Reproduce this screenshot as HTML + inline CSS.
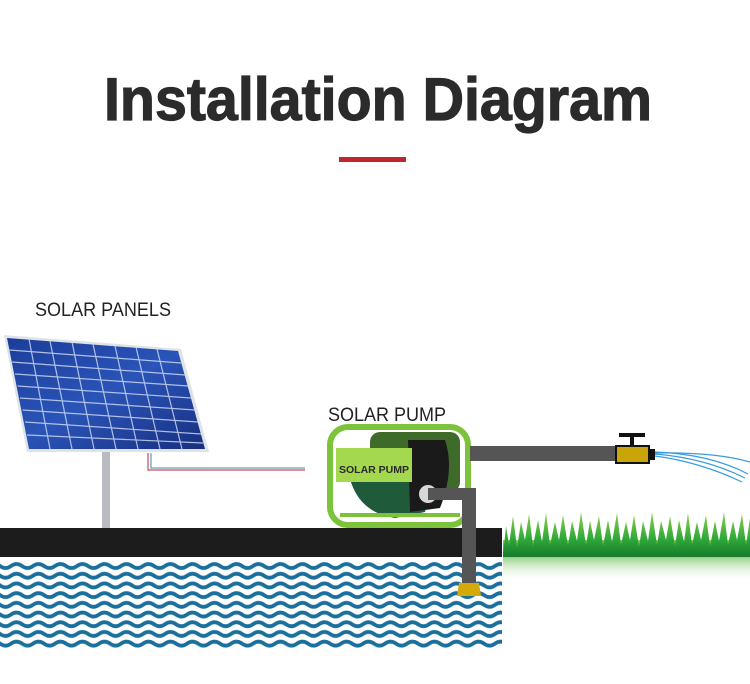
<!DOCTYPE html>
<html><head><meta charset="utf-8"><style>
html,body{margin:0;padding:0;background:#fff;}
svg{display:block}
</style></head><body>
<svg width="750" height="684" viewBox="0 0 750 684" xmlns="http://www.w3.org/2000/svg">
<defs>
<pattern id="wave" x="0" y="561" width="22" height="9.7" patternUnits="userSpaceOnUse">
<path d="M-11,5 Q-5.5,1 0,5 T11,5 T22,5 T33,5" fill="none" stroke="#1b6f9c" stroke-width="3.8"/>
</pattern>
<linearGradient id="panel" x1="0" y1="0" x2="1" y2="1">
<stop offset="0" stop-color="#1c3d9a"/><stop offset="0.5" stop-color="#2a54b8"/><stop offset="1" stop-color="#172f80"/>
</linearGradient>
<linearGradient id="grass" x1="0" y1="0" x2="0" y2="1">
<stop offset="0" stop-color="#8fd04a"/><stop offset="0.6" stop-color="#2fa83a"/><stop offset="1" stop-color="#167a2a"/>
</linearGradient>
<linearGradient id="refl" x1="0" y1="0" x2="0" y2="1">
<stop offset="0" stop-color="#7bc66a" stop-opacity="0.8"/><stop offset="1" stop-color="#ffffff" stop-opacity="0"/>
</linearGradient>
</defs>

<text x="378" y="120" text-anchor="middle" font-family="Liberation Sans, Arial, sans-serif" font-weight="bold" font-size="60" fill="#2b2b2b" stroke="#2b2b2b" stroke-width="1.2" textLength="548" lengthAdjust="spacingAndGlyphs">Installation Diagram</text>
<rect x="339" y="157" width="67" height="5" fill="#c0272d"/>

<text x="35" y="316" font-family="Liberation Sans, Arial, sans-serif" font-size="19" fill="#222" textLength="136" lengthAdjust="spacingAndGlyphs">SOLAR PANELS</text>
<text x="328" y="421" font-family="Liberation Sans, Arial, sans-serif" font-size="19" fill="#222" textLength="118" lengthAdjust="spacingAndGlyphs">SOLAR PUMP</text>

<!-- pole -->
<rect x="102" y="452" width="8" height="76" fill="#b8bcc0"/>
<!-- panel -->
<polygon points="4,335 181,349 209,452 27,452" fill="#dfe3e8"/>
<polygon points="7,338 178,351 205,449 29,449" fill="url(#panel)"/>
<g stroke="#c9d6f0" stroke-width="1.2" opacity="0.85">
<line x1="9.5" y1="350" x2="181" y2="363"/>
<line x1="12" y1="362" x2="185" y2="375"/>
<line x1="15" y1="374" x2="188" y2="386"/>
<line x1="17.5" y1="386" x2="191" y2="398"/>
<line x1="20" y1="398" x2="195" y2="410"/>
<line x1="22.5" y1="410" x2="198" y2="422"/>
<line x1="25" y1="422" x2="201" y2="434"/>
<line x1="27" y1="435" x2="203" y2="443"/>
<line x1="29" y1="339" x2="50" y2="449"/>
<line x1="50" y1="341" x2="72" y2="449"/>
<line x1="72" y1="342" x2="94" y2="449"/>
<line x1="93" y1="344" x2="116" y2="449"/>
<line x1="115" y1="346" x2="138" y2="449"/>
<line x1="136" y1="347" x2="160" y2="449"/>
<line x1="157" y1="349" x2="182" y2="449"/>
</g>
<!-- wire -->
<polyline points="148,453 148,470 305,470" fill="none" stroke="#c94a5a" stroke-width="1.2"/>
<polyline points="151,453 151,468 305,468" fill="none" stroke="#5a7fa0" stroke-width="1"/>

<!-- ground -->
<rect x="0" y="528" width="502" height="29" fill="#1c1c1c"/>
<!-- water -->
<rect x="0" y="561" width="502" height="88" fill="url(#wave)"/>

<!-- grass -->
<g>
<rect x="503" y="540" width="247" height="17" fill="url(#grass)"/>
<path d="M503,557 L506,526 509,545 513,516 517,548 521,522 525,540 529,514 533,546 538,520 542,542 546,513 550,545 555,522 559,540 563,515 568,546 572,521 577,541 581,512 586,545 590,521 594,540 599,516 603,546 608,520 612,542 617,513 621,545 626,522 630,540 634,515 639,547 643,521 648,541 652,512 657,545 661,521 666,540 670,516 675,546 679,520 684,542 688,513 692,545 697,522 701,540 706,515 710,546 715,521 719,541 724,512 728,545 733,521 737,540 742,514 746,545 750,518 750,557 Z" fill="url(#grass)"/>
<rect x="503" y="557" width="247" height="25" fill="url(#refl)"/>
</g>

<!-- pump frame -->
<g>
<rect x="370" y="432" width="90" height="60" rx="10" fill="#3e6a2a"/>
<path d="M348,470 Q355,512 395,518 L425,512 Q432,480 420,455 L380,452 Z" fill="#1f5a3a"/>
<path d="M408,440 L445,440 Q455,470 440,508 L410,512 Z" fill="#1a1a1a"/>
<rect x="330" y="427" width="138" height="98" rx="18" fill="none" stroke="#7cc23a" stroke-width="6"/>
<rect x="336" y="448" width="76" height="34" fill="#a4d84e"/>
<text x="374" y="473" text-anchor="middle" font-family="Liberation Sans, Arial, sans-serif" font-weight="bold" font-size="10.5" fill="#2a2a2a">SOLAR PUMP</text>
<line x1="340" y1="515" x2="460" y2="515" stroke="#7cc23a" stroke-width="4"/>
<circle cx="428" cy="494" r="9" fill="#d8d8d8"/>
</g>

<!-- pipes -->
<rect x="470" y="446" width="146" height="15" fill="#555"/>
<rect x="428" y="488" width="48" height="12" fill="#555"/>
<rect x="462" y="488" width="14" height="97" fill="#555"/>
<polygon points="459,583 479,583 481,596 457,596" fill="#d4a90a"/>
<!-- valve -->
<rect x="619" y="433" width="26" height="4" fill="#111"/>
<rect x="630" y="436" width="4" height="10" fill="#111"/>
<rect x="616" y="446" width="33" height="17" fill="#c9a50a" stroke="#111" stroke-width="2"/>
<rect x="648" y="449" width="7" height="11" fill="#111"/>
<!-- spray -->
<g fill="none" stroke="#3a9ce0" stroke-width="1.2">
<path d="M655,452 Q710,454 748,474"/>
<path d="M655,454 Q705,458 745,478"/>
<path d="M655,456 Q700,462 742,482"/>
<path d="M655,453 Q715,452 750,462"/>
</g>
</svg>
</body></html>
